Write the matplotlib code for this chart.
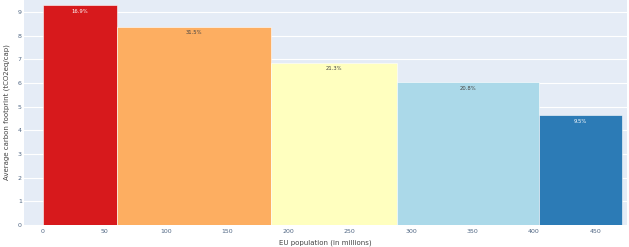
import numpy as np
import matplotlib
matplotlib.use("Agg")
import matplotlib.pyplot as plt

# Data
populations = [60.3, 125.3, 103.2, 115.2, 67.7]          # bar widths (millions)
footprints = [9.27, 8.37, 6.86, 6.02, 4.64]              # tCO2eq/cap
shares = ["16.9%", "31.5%", "21.3%", "20.8%", "9.5%"]
colors = ["#d7191c", "#fdae61", "#ffffbf", "#abd9e9", "#2c7bb6"]
text_colors = ["white", "#444444", "#444444", "#444444", "white"]
xticks = [0, 50, 100, 150, 200, 250, 300, 350, 400, 450]
yticks = list(range(0, 10))

fig = plt.figure(figsize=(6.29, 2.47), dpi=100)
ax = fig.add_axes([24/629, 1 - 225/247, (627-24)/629, 225/247])
ax.set_facecolor("#e5ecf6")

lefts = np.concatenate([[0], np.cumsum(populations)[:-1]])
ax.bar(lefts, footprints, width=populations, align="edge", color=colors,
       edgecolor="white", linewidth=0.4, zorder=3)
for l, w, h, s, tc in zip(lefts, populations, footprints, shares, text_colors):
    ax.annotate(s, (l + w/2, h), xytext=(0, -2.5), textcoords="offset points",
                ha="center", va="top", fontsize=3.8, color=tc, zorder=4)

ax.set_xlim(-15.5, 476)
ax.set_ylim(0, 9.5)
ax.set_xticks(xticks)
ax.set_yticks(yticks)
ax.grid(axis="y", color="white", linewidth=0.8, zorder=0)
ax.set_axisbelow(True)
for sp in ax.spines.values():
    sp.set_visible(False)
ax.tick_params(axis="x", length=0, labelsize=4.5, colors="#506784", pad=3)
ax.tick_params(axis="y", length=0, labelsize=4.5, colors="#506784", pad=1.5)
ax.set_xlabel("EU population (in millions)", fontsize=5, color="#444444", labelpad=4)
ax.set_ylabel("Average carbon footprint (tCO2eq/cap)", fontsize=5, color="#444444", labelpad=6)

fig.savefig("out.png", dpi=100)
